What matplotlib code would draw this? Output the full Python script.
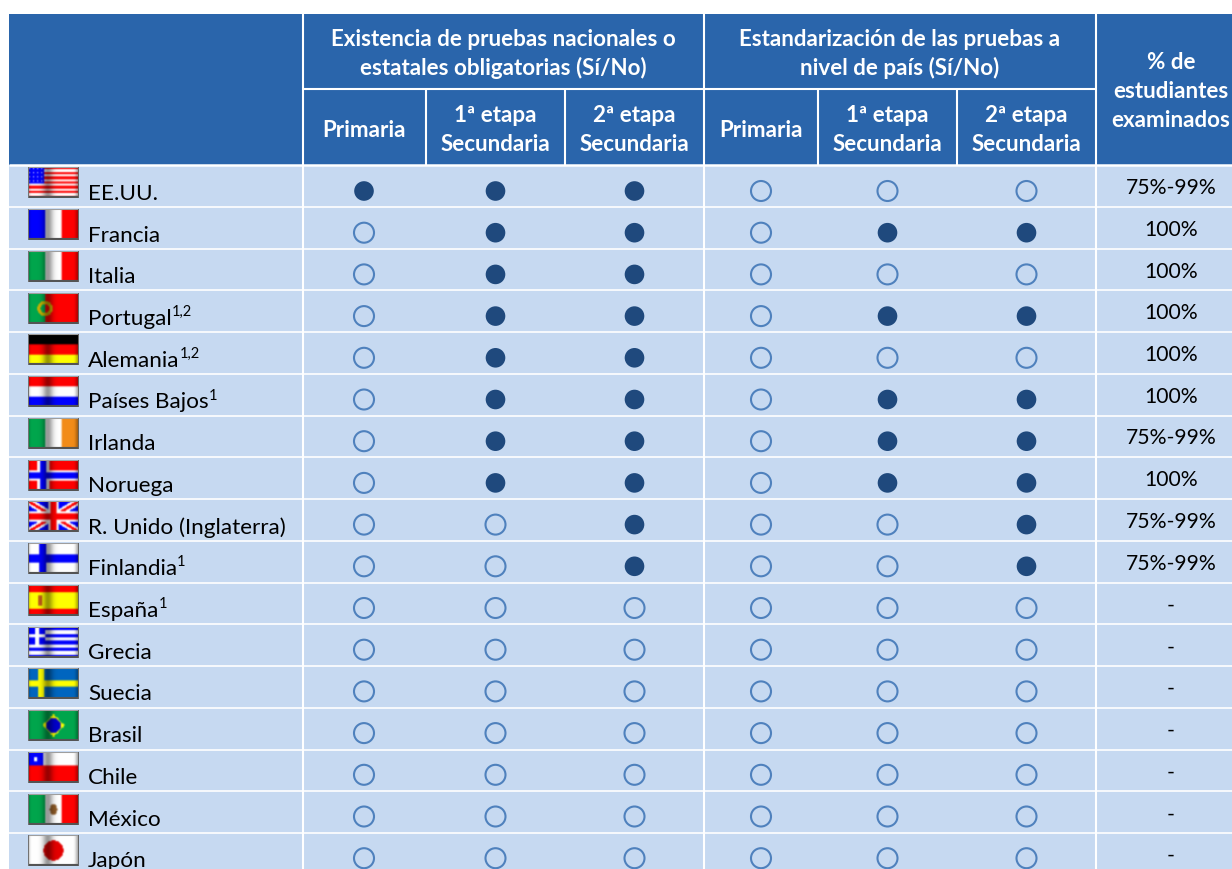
import numpy as np
import matplotlib
matplotlib.use("Agg")
import matplotlib.pyplot as plt
from matplotlib.patches import Rectangle, Circle

# ---------- data ----------
countries = ["EE.UU.", "Francia", "Italia", "Portugal", "Alemania", "Países Bajos", "Irlanda", "Noruega",
             "R. Unido (Inglaterra)", "Finlandia", "España", "Grecia", "Suecia", "Brasil", "Chile", "México", "Japón"]
notes = ["", "", "", "1,2", "1,2", "1", "", "", "", "1", "1", "", "", "", "", "", ""]
exist_prim = [1, 0, 0, 0, 0, 0, 0, 0, 0, 0, 0, 0, 0, 0, 0, 0, 0]
exist_sec1 = [1, 1, 1, 1, 1, 1, 1, 1, 0, 0, 0, 0, 0, 0, 0, 0, 0]
exist_sec2 = [1, 1, 1, 1, 1, 1, 1, 1, 1, 1, 0, 0, 0, 0, 0, 0, 0]
std_prim = [0] * 17
std_sec1 = [0, 1, 0, 1, 0, 1, 1, 1, 0, 0, 0, 0, 0, 0, 0, 0, 0]
std_sec2 = [0, 1, 0, 1, 0, 1, 1, 1, 1, 1, 0, 0, 0, 0, 0, 0, 0]
percent = ["75%-99%", "100%", "100%", "100%", "100%", "100%", "75%-99%", "100%", "75%-99%", "75%-99%",
           "-", "-", "-", "-", "-", "-", "-"]
matrix = [exist_prim, exist_sec1, exist_sec2, std_prim, std_sec1, std_sec2]
flag_codes = ["us", "fr", "it", "pt", "de", "nl", "ie", "no", "uk", "fi", "es", "gr", "se", "br", "cl", "mx", "jp"]

# ---------- style ----------
HEAD = "#2A65AB"
BODY = "#C6D9F1"
DARK = "#1F497D"
RING = "#4F81BD"
plt.rcParams["font.family"] = ["Lato", "DejaVu Sans"]
R = (1.0, 0.0, 0.0); B = (0.0, 0.0, 1.0); W = (1.0, 1.0, 1.0); G = (0.0, 0.65, 0.3)
K = (0.0, 0.0, 0.0); Y = (1.0, 1.0, 0.0); O = (0.95, 0.55, 0.1); SB = (0.0, 0.4, 0.75)


def blur(a):
    out = a.copy()
    for ax_i in (0, 1):
        out = .2 * np.roll(out, 1, ax_i) + .6 * out + .2 * np.roll(out, -1, ax_i)
    out[0], out[-1] = a[0], a[-1]
    out[:, 0], out[:, -1] = a[:, 0], a[:, -1]
    return out


def flag(code, h=30, w=50):
    a = np.ones((h, w, 3))
    yy, xx = np.mgrid[0:h, 0:w]
    u, v = (xx + .5) / w, (yy + .5) / h
    def paint(mask, c):
        a[mask] = c
    if code in ("fr", "it", "ie", "mx"):
        left = {"fr": B, "it": G, "ie": G, "mx": G}[code]
        right = {"fr": R, "it": R, "ie": O, "mx": R}[code]
        paint(u < 1 / 3, left); paint(u > 2 / 3, right)
        if code == "mx":
            paint((u - .5) ** 2 * 6 + (v - .5) ** 2 < .03, (.55, .35, .15))
    elif code == "pt":
        paint(u < 1 / 3, G); paint(u >= 1 / 3, R)
        paint(np.abs(((u - 1 / 3) * 5 / 3) ** 2 + (v - .5) ** 2 - .04) < .02, (.8, .7, 0))
    elif code == "de":
        paint(v < 1 / 3, K); paint((v >= 1 / 3) & (v < 2 / 3), R); paint(v >= 2 / 3, Y)
    elif code == "nl":
        paint(v < 1 / 3, R); paint(v >= 2 / 3, B)
    elif code == "us":
        paint(np.floor(v * 13) % 2 == 0, R)
        paint((u < .32) & (v < .54), B)
        paint((u < .32) & (v < .54) & (xx % 4 == 1) & (yy % 4 == 1), W)
    elif code in ("no", "fi", "se"):
        if code == "no":
            paint(np.ones_like(u, bool), R)
            paint((np.abs(u - .3) < .11) | (np.abs(v - .5) < .18), W)
            paint((np.abs(u - .3) < .06) | (np.abs(v - .5) < .1), B)
        elif code == "fi":
            paint((np.abs(u - .3) < .07) | (np.abs(v - .5) < .12), B)
        else:
            paint(np.ones_like(u, bool), SB)
            paint((np.abs(u - .26) < .06) | (np.abs(v - .5) < .11), Y)
    elif code == "uk":
        paint(np.ones_like(u, bool), B)
        d1, d2 = np.abs(u - v), np.abs(u - (1 - v))
        paint((d1 < .13) | (d2 < .13), W)
        paint((d1 < .05) | (d2 < .05), R)
        paint((np.abs(u - .5) < .1) | (np.abs(v - .5) < .17), W)
        paint((np.abs(u - .5) < .06) | (np.abs(v - .5) < .1), R)
    elif code == "es":
        paint((v < .25) | (v > .75), R); paint((v >= .25) & (v <= .75), Y)
        paint((np.abs(u - .24) < .035) & (np.abs(v - .5) < .17), (.75, .35, .1))
    elif code == "gr":
        paint(np.floor(v * 9) % 2 == 0, B)
        paint((u < .34) & (v < 5 / 9), B)
        paint((u < .34) & (v < 5 / 9) & ((np.abs(u - .17) < .04) | (np.abs(v - 2.5 / 9) < .05)), W)
    elif code == "br":
        paint(np.ones_like(u, bool), G)
        paint(np.abs(u - .5) * 2.5 + np.abs(v - .5) * 1.5 < .55, Y)
        paint(((u - .5) * 5 / 3) ** 2 + (v - .5) ** 2 < .055, (0, 0, .8))
    elif code == "cl":
        paint(v >= .45, R); paint((u < .3) & (v < .45), B)
        paint((np.abs(u - .15) < .03) & (np.abs(v - .22) < .07), W)
    elif code == "jp":
        paint(((u - .5) * 5 / 3) ** 2 + (v - .5) ** 2 < .105, (.9, 0, 0))
    a = blur(a)
    # glossy shading across the width
    shade = 1 - .4 * np.exp(-((u - .39) / .1) ** 2) - .3 * np.exp(-((u - .98) / .05) ** 2) - .25 * np.exp(-(u / .04) ** 2)
    a = np.clip(a * shade[..., None], 0, 1)
    a[0:1, :] = (.62, .62, .62)
    a[-2:, :] = (.33, .33, .33)
    a[:, 0:1] = (.45, .45, .45)
    a[:, -1:] = (.4, .4, .4)
    return a


fig = plt.figure(figsize=(12.32, 8.69), dpi=100)
ax = fig.add_axes([0, 0, 1, 1])
ax.set_xlim(0, 1232)
ax.set_ylim(869, 0)
ax.axis("off")

# backgrounds
ax.add_patch(Rectangle((9, 14), 1232 - 9, 151, fc=HEAD, ec="none"))
ax.add_patch(Rectangle((9, 165), 1232 - 9, 704, fc=BODY, ec="none"))

# grid lines
row_pitch = 41.75
for i in range(0, 17):
    y = 165 + i * row_pitch
    ax.plot([9, 1232], [y, y], color="white", lw=1.2 if i else 1.8, solid_capstyle="butt", zorder=2)
for x in [302.5, 704, 1096]:
    ax.plot([x, x], [14, 869], color="white", lw=1.5, solid_capstyle="butt", zorder=2)
ax.plot([302.5, 1096], [88.5, 88.5], color="white", lw=1.5, solid_capstyle="butt", zorder=2)
for x in [426, 565, 818, 957]:
    ax.plot([x, x], [88.5, 165], color="white", lw=1.5, solid_capstyle="butt", zorder=2)

# header text
hk = dict(color="white", fontweight="bold", fontsize=16.1, ha="center", va="baseline", zorder=3)
ax.text(503, 46, "Existencia de pruebas nacionales o", **hk)
ax.text(503, 75, "estatales obligatorias (Sí/No)", **hk)
ax.text(900, 46, "Estandarización de las pruebas a", **hk)
ax.text(900, 75, "nivel de país (Sí/No)", **hk)
ax.text(1171, 69, "% de", **hk)
ax.text(1171, 98, "estudiantes", **hk)
ax.text(1171, 127, "examinados", **hk)
col_x = [364, 495.5, 634.5, 761, 887.5, 1026.5]
for k, x in enumerate(col_x):
    if k % 3 == 0:
        ax.text(x, 137, "Primaria", **hk)
    else:
        ax.text(x, 122, f"{k % 3}ª etapa", **hk)
        ax.text(x, 151, "Secundaria", **hk)

# rows
fig.canvas.draw()
rend = fig.canvas.get_renderer()
for i, name in enumerate(countries):
    ytop = 167.5 + i * row_pitch
    ax.imshow(flag(flag_codes[i]), extent=(28, 79, ytop + 31, ytop), zorder=3, aspect="auto",
              interpolation="bilinear")
    base = 200 + i * 41.7
    t = ax.text(88, base, name, fontsize=16.2, color="black", va="baseline", ha="left", zorder=4)
    if notes[i]:
        bb = t.get_window_extent(rend)
        ax.text(bb.x1, base - 9, notes[i], fontsize=10.5, color="black", va="baseline", ha="left", zorder=4)
    yc = 191 + i * 41.7
    for k, x in enumerate(col_x):
        on = matrix[k][i]
        ax.add_patch(Circle((x, yc), 9.8 if on else 10, fc=DARK if on else BODY, ec=DARK if on else RING,
                            lw=0 if on else 1.5, zorder=3))
    ax.text(1171, 194 + i * row_pitch, percent[i], fontsize=15.2, color="black", ha="center", va="baseline", zorder=4)

ax.set_xlim(0, 1232)
ax.set_ylim(869, 0)
ax.set_aspect("auto")
fig.savefig("out.png", dpi=100, facecolor="white")
